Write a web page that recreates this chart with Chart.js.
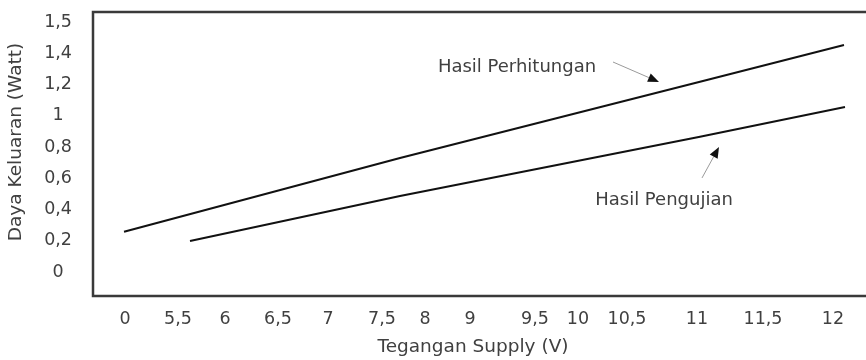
<!DOCTYPE html>
<html>
<head>
<meta charset="utf-8">
<script src="https://cdn.jsdelivr.net/npm/chart.js@4/dist/chart.umd.min.js"></script>
<style>
  html, body { margin: 0; padding: 0; background: #fff; }
  #wrap { width: 866px; height: 360px; position: relative; }
</style>
</head>
<body>
<div id="wrap"><canvas id="chart"></canvas></div>
<script>
// axis ticks (x positions follow the hand-placed labels of the original)
const xTickPos = [3.2, 8.5, 13.2, 18.5, 23.5, 28.9, 33.2, 37.7, 44.2, 48.5, 53.4, 60.4, 67.0, 74.0];
const xTickLabels = ["0", "5,5", "6", "6,5", "7", "7,5", "8", "9", "9,5", "10", "10,5", "11", "11,5", "12"];
const yTickPos = [0, 0.2, 0.4, 0.6, 0.8, 1.0, 1.2, 1.4, 1.6];
const yTickLabels = ["0", "0,2", "0,4", "0,6", "0,8", "1", "1,2", "1,4", "1,5"];

// series
const perhitunganX = [3.1, 30.7, 60.7, 75.1];
const perhitunganY = [0.258, 0.730, 1.218, 1.453];
const pengujianX = [9.7, 30.7, 60.7, 75.2];
const pengujianY = [0.198, 0.486, 0.866, 1.056];

const FONT = "DejaVu Sans";
const TEXT = "#404040";

const toPoints = (xs, ys) => xs.map((x, i) => ({ x: x, y: ys[i] }));

function arrow(ctx, x1, y1, x2, y2) {
  const ang = Math.atan2(y2 - y1, x2 - x1);
  const len = 11, half = 4.5;
  const bx = x2 - len * Math.cos(ang), by = y2 - len * Math.sin(ang);
  ctx.strokeStyle = "#9a9a9a";
  ctx.lineWidth = 1;
  ctx.beginPath();
  ctx.moveTo(x1, y1);
  ctx.lineTo(bx, by);
  ctx.stroke();
  ctx.fillStyle = "#111";
  ctx.beginPath();
  ctx.moveTo(x2, y2);
  ctx.lineTo(bx + half * Math.sin(ang), by - half * Math.cos(ang));
  ctx.lineTo(bx - half * Math.sin(ang), by + half * Math.cos(ang));
  ctx.closePath();
  ctx.fill();
}

// frame, axis titles and the two labelled arrows
const decorPlugin = {
  id: "decor",
  afterDraw(chart) {
    const { ctx, chartArea, scales } = chart;
    const sx = scales.x, sy = scales.y;
    ctx.save();
    ctx.strokeStyle = "#3a3a3a";
    ctx.lineWidth = 2.5;
    ctx.beginPath();
    ctx.moveTo(chartArea.right, chartArea.top);
    ctx.lineTo(chartArea.left, chartArea.top);
    ctx.lineTo(chartArea.left, chartArea.bottom);
    ctx.lineTo(chartArea.right, chartArea.bottom);
    ctx.stroke();

    ctx.fillStyle = TEXT;
    ctx.textAlign = "center";
    ctx.textBaseline = "middle";
    ctx.font = "18.5px '" + FONT + "'";
    ctx.fillText("Tegangan Supply (V)", 473, 347);
    ctx.save();
    ctx.translate(16, 142);
    ctx.rotate(-Math.PI / 2);
    ctx.fillText("Daya Keluaran (Watt)", 0, 0);
    ctx.restore();

    ctx.font = "18px '" + FONT + "'";
    ctx.fillText("Hasil Perhitungan", sx.getPixelForValue(42.4), sy.getPixelForValue(1.312));
    ctx.fillText("Hasil Pengujian", sx.getPixelForValue(57.1), sy.getPixelForValue(0.461));
    arrow(ctx, sx.getPixelForValue(52.0), sy.getPixelForValue(1.344),
               sx.getPixelForValue(56.6), sy.getPixelForValue(1.216));
    arrow(ctx, sx.getPixelForValue(60.9), sy.getPixelForValue(0.602),
               sx.getPixelForValue(62.6), sy.getPixelForValue(0.80));
    ctx.restore();
  },
};

new Chart(document.getElementById("chart"), {
  type: "scatter",
  data: {
    datasets: [
      {
        label: "Hasil Perhitungan",
        data: toPoints(perhitunganX, perhitunganY),
        showLine: true,
        borderColor: "#111",
        borderWidth: 2,
        pointRadius: 0,
      },
      {
        label: "Hasil Pengujian",
        data: toPoints(pengujianX, pengujianY),
        showLine: true,
        borderColor: "#111",
        borderWidth: 2,
        pointRadius: 0,
      },
    ],
  },
  options: {
    responsive: true,
    maintainAspectRatio: false,
    animation: false,
    layout: { padding: { top: 12, right: 0, left: 0, bottom: 0 } },
    plugins: {
      legend: { display: false },
      tooltip: { enabled: false },
    },
    scales: {
      x: {
        type: "linear",
        min: 0,
        max: 77.3,
        grid: { display: false, drawTicks: false },
        border: { display: false },
        afterBuildTicks: (scale) => {
          scale.ticks = xTickPos.map((v) => ({ value: v }));
        },
        afterFit: (scale) => {
          scale.height = 64;
          scale.paddingLeft = 0;
          scale.paddingRight = 0;
        },
        ticks: {
          autoSkip: false,
          maxRotation: 0,
          padding: 13,
          color: TEXT,
          font: { family: FONT, size: 17.5 },
          callback: (v, i) => xTickLabels[i],
        },
      },
      y: {
        type: "linear",
        min: -0.1536,
        max: 1.664,
        grid: { display: false, drawTicks: false },
        border: { display: false },
        afterBuildTicks: (scale) => {
          scale.ticks = yTickPos.map((v) => ({ value: v }));
        },
        afterFit: (scale) => {
          scale.width = 93;
          scale.paddingTop = 0;
          scale.paddingBottom = 0;
        },
        ticks: {
          autoSkip: false,
          crossAlign: "center",
          padding: 21,
          color: TEXT,
          font: { family: FONT, size: 17.5 },
          callback: (v, i) => yTickLabels[i],
        },
      },
    },
  },
  plugins: [decorPlugin],
});
</script>
</body>
</html>
